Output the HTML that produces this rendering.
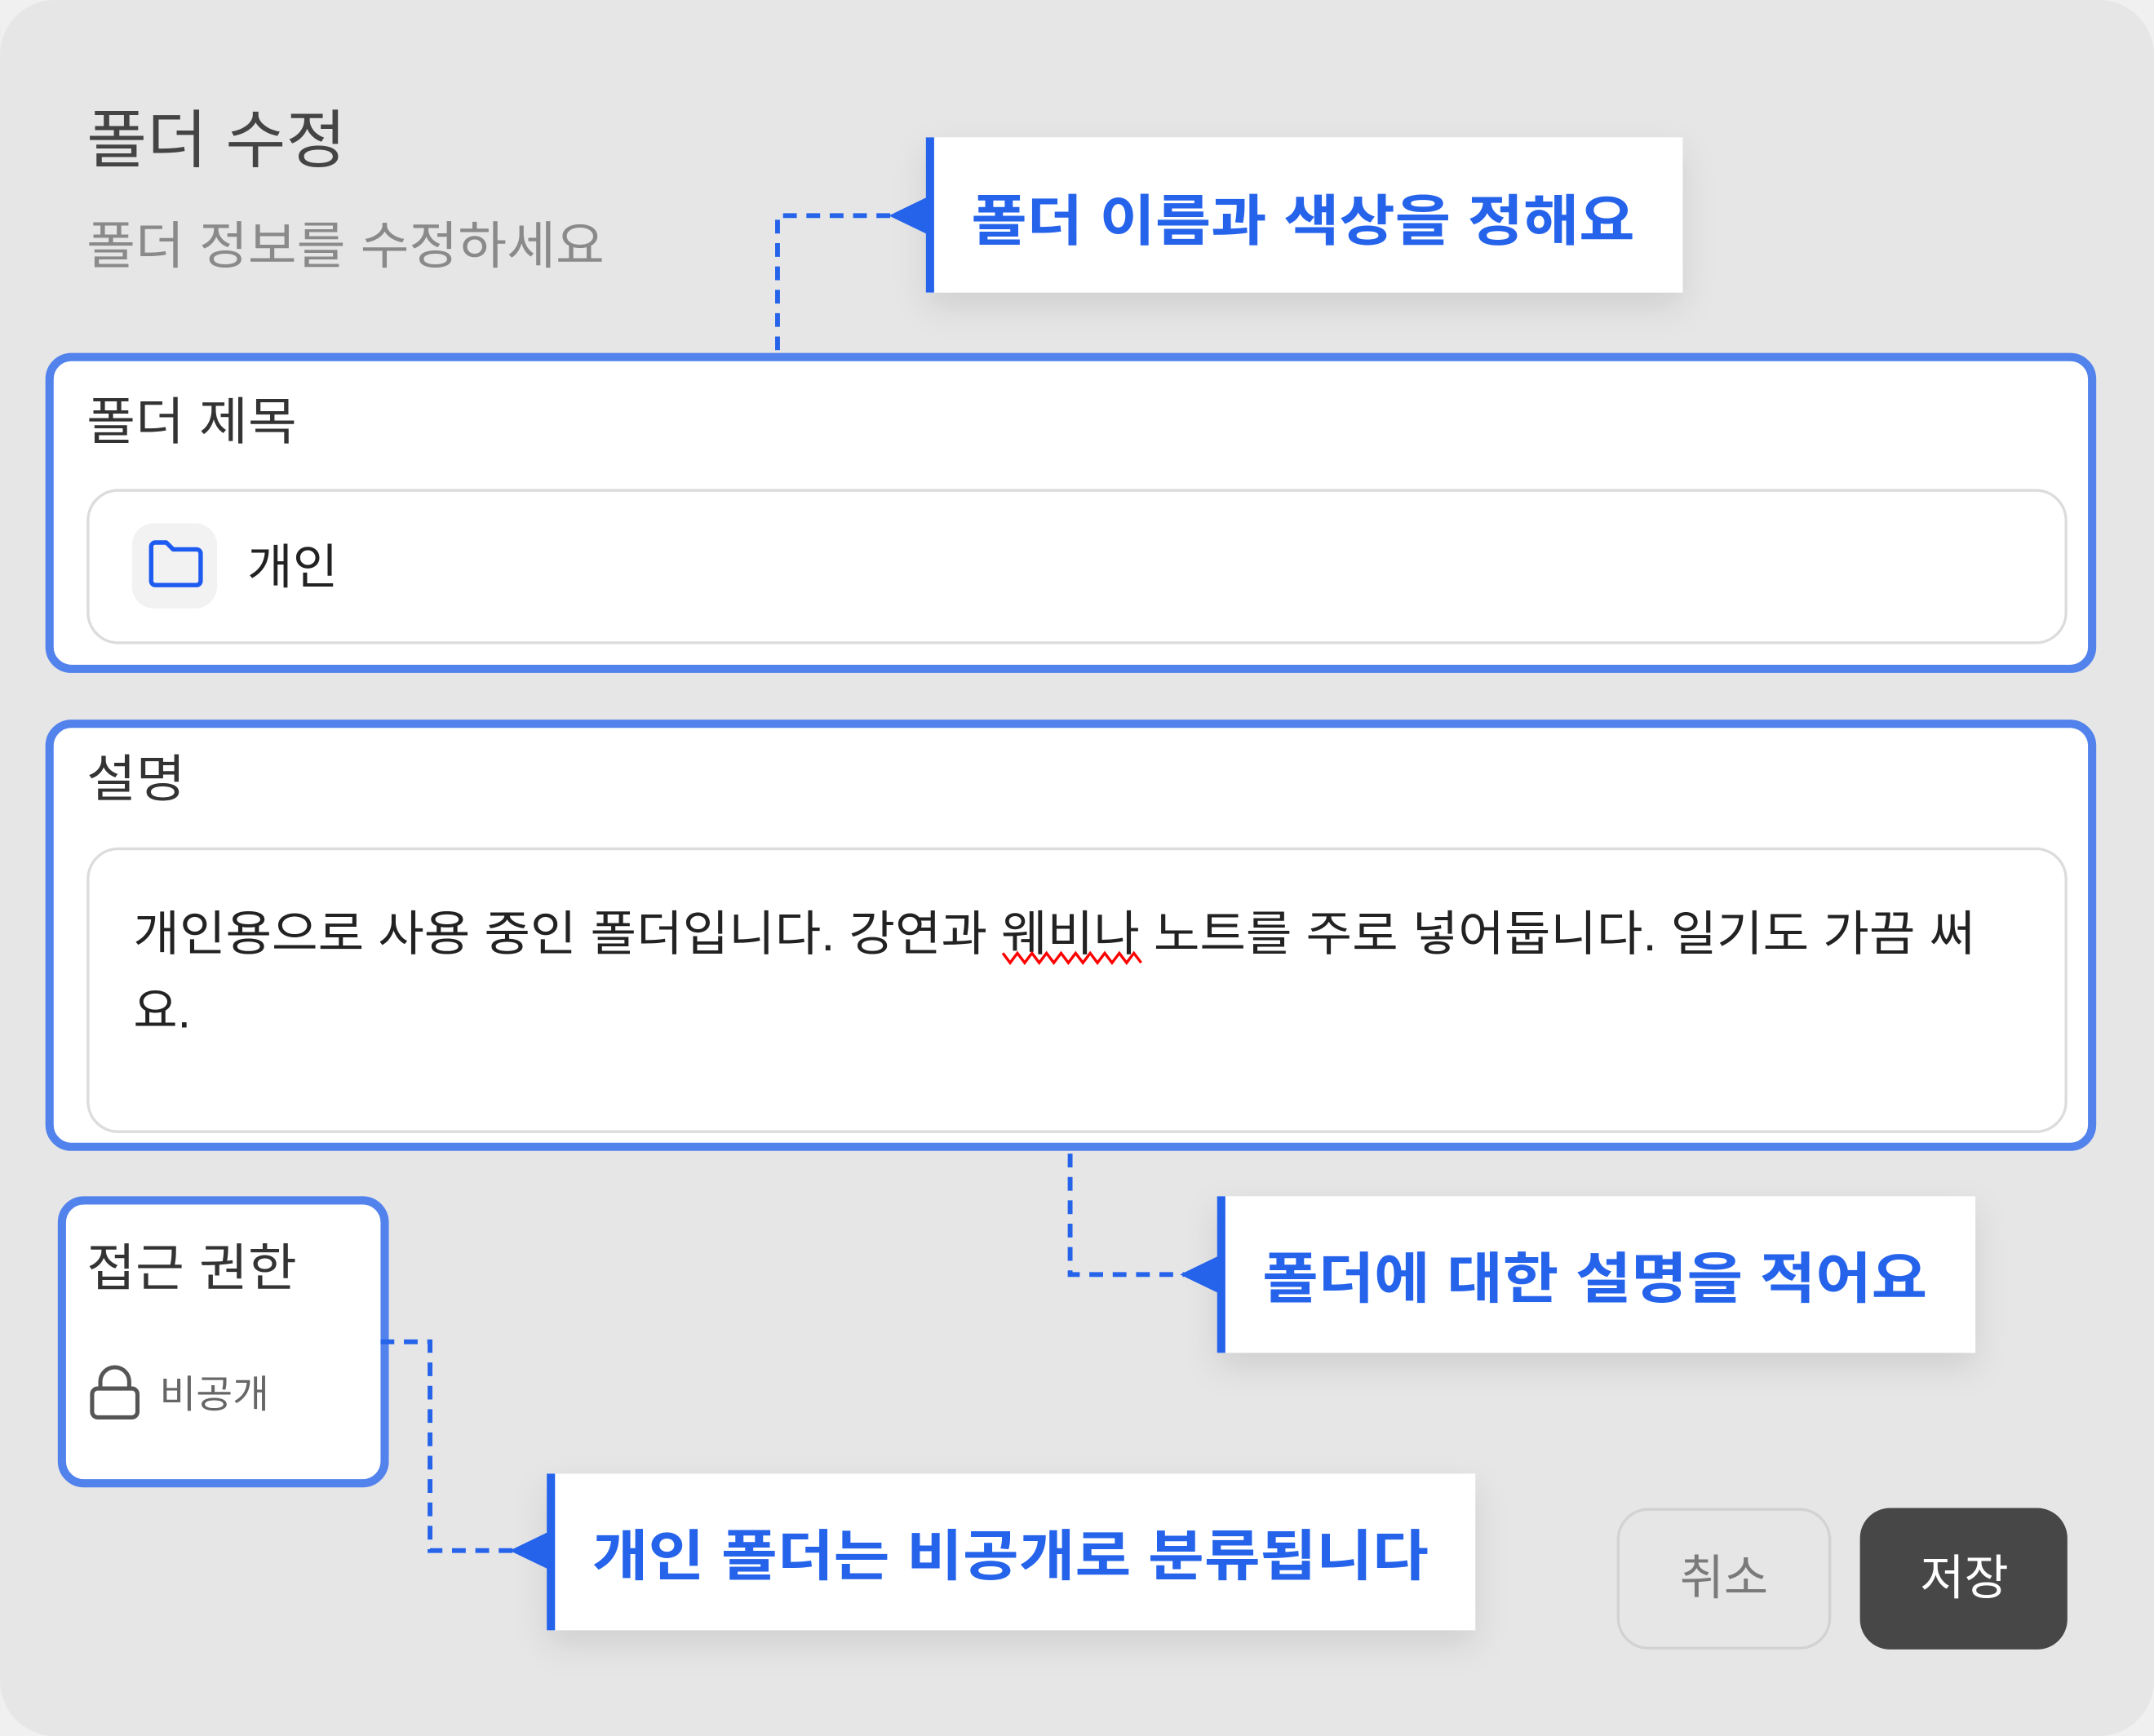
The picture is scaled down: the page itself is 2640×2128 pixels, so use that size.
<!DOCTYPE html>
<html><head><meta charset="utf-8"><style>
html,body{margin:0;padding:0;background:#e6e6e6;}
svg{display:block;}
text{font-family:"Liberation Sans","Noto Sans CJK KR",sans-serif;}
</style></head><body>
<svg width="2640" height="2128" viewBox="0 0 1568 1264" xmlns="http://www.w3.org/2000/svg">
<defs>
<filter id="sh" x="-20%" y="-30%" width="140%" height="180%">
<feDropShadow dx="0" dy="10" stdDeviation="12" flood-color="#000" flood-opacity="0.10"/>
</filter>
</defs>
<rect x="0" y="0" width="1568" height="1264" fill="#f0f0f0"/>
<rect x="0" y="0" width="1568" height="1264" rx="40" fill="#e6e6e6"/>

<text x="63" y="118" font-size="46" fill="#444" textLength="189" lengthAdjust="spacingAndGlyphs">폴더 수정</text>
<text x="63" y="192" font-size="37" fill="#8a8a8a" textLength="377" lengthAdjust="spacingAndGlyphs">폴더 정보를 수정하세요</text>

<path d="M566 255 V157 H650" fill="none" stroke="#2563eb" stroke-width="3.5" stroke-dasharray="10 7"/>
<rect x="674" y="100" width="551" height="113" fill="#fff" filter="url(#sh)"/>
<rect x="674" y="100" width="6" height="113" fill="#2563eb"/>
<polygon points="647,157 676,143 676,171" fill="#2563eb"/>
<text x="707" y="175" font-size="40" font-weight="bold" fill="#2563eb" textLength="483" lengthAdjust="spacingAndGlyphs">폴더 이름과 색상을 정해요</text>

<rect x="36" y="260" width="1487" height="227" rx="16" fill="#fff" stroke="#5282ec" stroke-width="6"/>
<text x="63" y="320" font-size="37" fill="#333" textLength="153" lengthAdjust="spacingAndGlyphs">폴더 제목</text>
<rect x="64" y="357" width="1440" height="111" rx="22" fill="#fff" stroke="#dcdcdc" stroke-width="2"/>
<rect x="96" y="381" width="62" height="62" rx="16" fill="#f2f2f2"/>
<path d="M110 400 v-2 a3 3 0 0 1 3 -3 h8 l5 5 h17 a3 3 0 0 1 3 3 v20 a3 3 0 0 1 -3 3 h-30 a3 3 0 0 1 -3 -3 z" fill="none" stroke="#1e5bf0" stroke-width="3.2" stroke-linejoin="round"/>
<text x="180" y="425" font-size="35" fill="#222" textLength="66" lengthAdjust="spacingAndGlyphs">개인</text>

<rect x="36" y="527" width="1487" height="308" rx="16" fill="#fff" stroke="#5282ec" stroke-width="6"/>
<text x="63" y="580" font-size="37" fill="#333" textLength="72" lengthAdjust="spacingAndGlyphs">설명</text>
<rect x="64" y="618" width="1440" height="206" rx="22" fill="#fff" stroke="#dcdcdc" stroke-width="2"/>
<text x="97" y="692" font-size="35" fill="#222" textLength="1341" lengthAdjust="spacingAndGlyphs">개인용으로 사용 중인 폴더입니다. 강연과 웨비나 노트를 주로 넣어둡니다. 일기도 가끔 써</text>
<text x="97" y="748" font-size="35" fill="#222">요.</text>
<path d="M730 694 l5.3 7 l5.3 -7 l5.3 7 l5.3 -7 l5.3 7 l5.3 -7 l5.3 7 l5.3 -7 l5.3 7 l5.3 -7 l5.3 7 l5.3 -7 l5.3 7 l5.3 -7 l5.3 7 l5.3 -7 l5.3 7 l5.3 -7 l5.3 7" fill="none" stroke="#f00" stroke-width="2"/>

<path d="M779 840 V928 H862" fill="none" stroke="#2563eb" stroke-width="3.5" stroke-dasharray="10 7"/>
<rect x="886" y="871" width="552" height="114" fill="#fff" filter="url(#sh)"/>
<rect x="886" y="871" width="6" height="114" fill="#2563eb"/>
<polygon points="859,928 888,914 888,942" fill="#2563eb"/>
<text x="919" y="945" font-size="40" font-weight="bold" fill="#2563eb" textLength="484" lengthAdjust="spacingAndGlyphs">폴더에 대한 설명을 적어요</text>

<rect x="45" y="874" width="235" height="206" rx="16" fill="#fff" stroke="#5282ec" stroke-width="6"/>
<text x="63" y="936" font-size="37" fill="#333" textLength="153" lengthAdjust="spacingAndGlyphs">접근 권한</text>
<rect x="67" y="1011" width="33" height="21" rx="4" fill="none" stroke="#555" stroke-width="3"/>
<path d="M73 1011 v-5 a10.5 10.5 0 0 1 21 0 v5" fill="none" stroke="#555" stroke-width="3"/>
<text x="116" y="1025" font-size="28" fill="#666" textLength="80" lengthAdjust="spacingAndGlyphs">비공개</text>

<path d="M277 977 H313 V1129 H374" fill="none" stroke="#2563eb" stroke-width="3.5" stroke-dasharray="10 7"/>
<rect x="398" y="1073" width="676" height="114" fill="#fff" filter="url(#sh)"/>
<rect x="398" y="1073" width="6" height="114" fill="#2563eb"/>
<polygon points="371,1129 400,1115 400,1143" fill="#2563eb"/>
<text x="431" y="1147" font-size="40" font-weight="bold" fill="#2563eb" textLength="609" lengthAdjust="spacingAndGlyphs">개인 폴더는 비공개로 분류됩니다</text>

<rect x="1178" y="1099" width="154" height="101" rx="22" fill="#e6e6e6" stroke="#d2d2d2" stroke-width="2"/>
<text x="1255" y="1161" font-size="35" fill="#7a7a7a" text-anchor="middle">취소</text>
<rect x="1354" y="1098" width="151" height="103" rx="22" fill="#474747"/>
<text x="1430" y="1161" font-size="35" fill="#fff" text-anchor="middle">저장</text>
</svg>
</body></html>
